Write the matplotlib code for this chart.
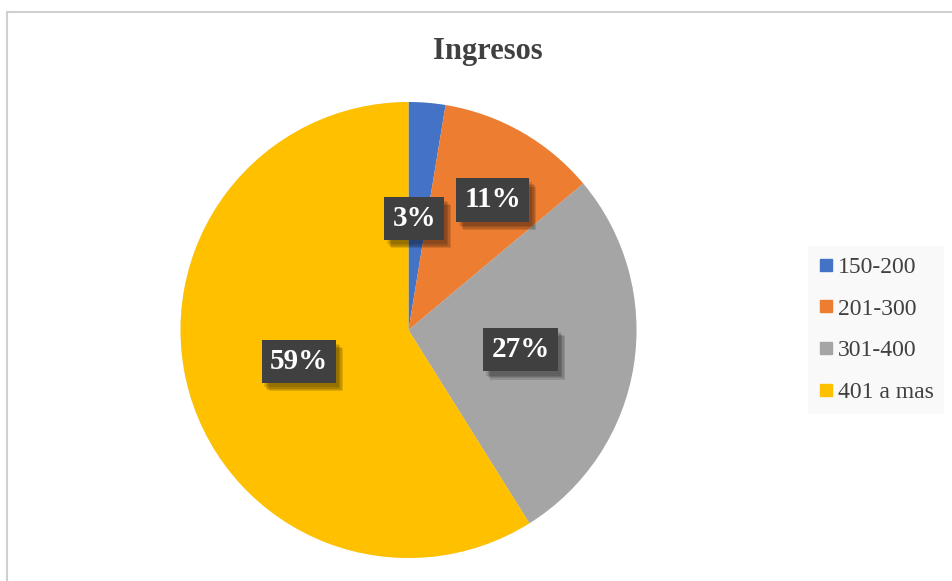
import numpy as np
import matplotlib
matplotlib.use('Agg')
import matplotlib.pyplot as plt
import matplotlib.patheffects as pe
from matplotlib.lines import Line2D
from matplotlib.patches import Rectangle

# Data
categories = ['150-200', '201-300', '301-400', '401 a mas']
values = [2.6, 11.3, 27.2, 58.9]
colors = ['#4472C4', '#ED7D31', '#A5A5A5', '#FFC000']
# label placement (fraction of radius, angle from top clockwise in deg)
label_r = [0.49, 0.68, 0.50, 0.50]
label_ang = [3, 33, 100, 254]

plt.rcParams['font.family'] = ['Liberation Serif', 'DejaVu Serif']

fig = plt.figure(figsize=(9.52, 5.81), dpi=100)
W, H = 952., 581.

# outer chart border
fig.patches.append(Rectangle((7/W, -0.2), 2, (H-12)/H + 0.2, transform=fig.transFigure,
                             fill=False, ec='#d0d0d0', lw=1.5, zorder=0))

cx, cy, R = 408.5, 330., 228.
ax = fig.add_axes([(cx-R)/W, (H-cy-R)/H, 2*R/W, 2*R/H])
wedges, _ = ax.pie(values, colors=colors, startangle=90, counterclock=False,
                   radius=1, wedgeprops=dict(linewidth=0))
for w in wedges:
    w.set_path_effects([pe.SimplePatchShadow(offset=(0, 0), shadow_rgbFace='#888888', alpha=0.15),
                        pe.Normal()])
ax.set_xlim(-1, 1)
ax.set_ylim(-1, 1)
ax.set_aspect('equal')
ax.axis('off')

shadow = [pe.SimplePatchShadow(offset=(o, -o-1), shadow_rgbFace='black', alpha=0.12)
          for o in (5, 4, 3, 2)]
for v, r, a in zip(values, label_r, label_ang):
    t = np.deg2rad(a)
    txt = ax.text(r*np.sin(t), r*np.cos(t), '{:.0f}%'.format(v), ha='center', va='center',
                  fontsize=21, fontweight='bold', color='white',
                  bbox=dict(boxstyle='square,pad=0.28', fc='#404040', ec='none', lw=0))
    txt.get_bbox_patch().set_path_effects(shadow + [pe.Normal()])

fig.text(488/W, 1 - 52/H, 'Ingresos', ha='center', va='center', fontsize=22,
         fontweight='bold', color='#404040')

handles = [Line2D([], [], marker='s', linestyle='none', markersize=8.5,
                  markerfacecolor=c, markeredgecolor=c) for c in colors]
leg = fig.legend(handles, categories, loc='upper left', bbox_to_anchor=(808/W, 1 - 246/H),
                 borderaxespad=0, frameon=True, fancybox=False, fontsize=17,
                 labelspacing=0.85, handlelength=0.6, handletextpad=0.2,
                 borderpad=0.45, labelcolor='#404040')
leg.get_frame().set_facecolor('#f8f8f8')
leg.get_frame().set_edgecolor('none')

plt.savefig('out.png', dpi=100)
